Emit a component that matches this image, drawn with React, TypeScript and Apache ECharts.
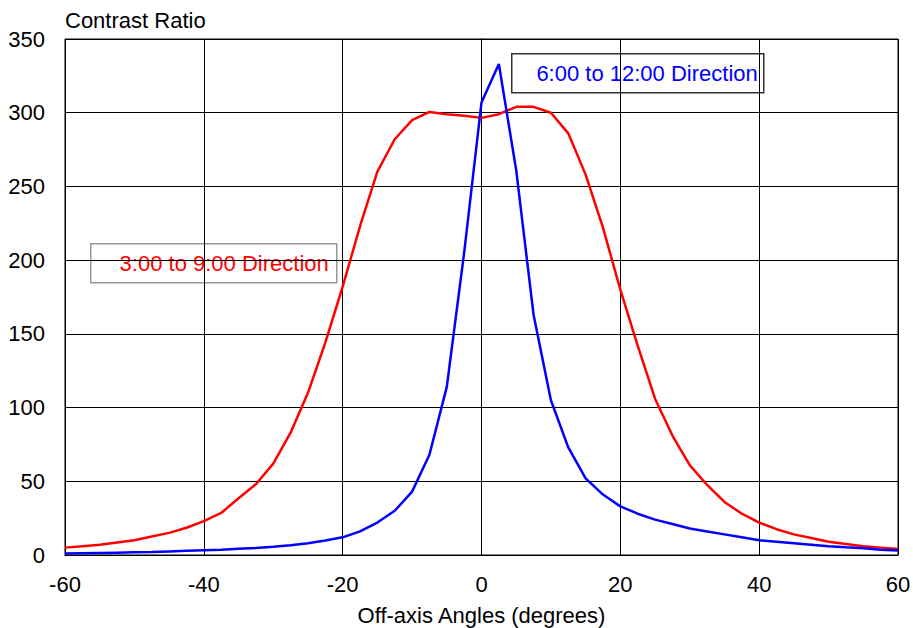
import React, { useEffect, useRef } from "react";
import * as echarts from "echarts";

const angles = [
  -60, -57.5, -55, -52.5, -50, -47.5, -45, -42.5, -40, -37.5, -35, -32.5, -30, -27.5, -25, -22.5,
  -20, -17.5, -15, -12.5, -10, -7.5, -5, -2.5, 0, 2.5, 5, 7.5, 10, 12.5, 15, 17.5, 20, 22.5, 25,
  27.5, 30, 32.5, 35, 37.5, 40, 42.5, 45, 47.5, 50, 52.5, 55, 57.5, 60,
];

const dir3to9 = [
  5, 6, 7, 8.5, 10, 12.5, 15, 18.5, 23, 28.5, 38.5, 48, 62, 83, 110, 144,
  182, 223, 260, 282, 295, 300.5, 299, 298, 296.5, 299, 304, 304, 300, 286, 258, 222, 180, 142, 106,
  81, 61, 47.5, 36, 28, 22, 17.5, 14, 11.5, 9, 7.5, 6, 5, 4,
];

const dir6to12 = [
  1, 1.2, 1.4, 1.6, 1.8, 2, 2.4, 2.8, 3.2, 3.6, 4.2, 4.8, 5.6, 6.6, 8, 9.8,
  12, 16, 22, 30, 43, 68, 114, 205, 307, 333, 261, 163, 105, 73, 52, 41, 33, 28, 24,
  21, 18, 16, 14, 12, 10, 9, 8, 7, 6, 5.2, 4.5, 3.6, 3,
];

const xTicks = { min: -60, max: 60, interval: 20 };
const yTicks = { min: 0, max: 350, interval: 50 };

const FONT = "'Liberation Sans', Arial, sans-serif";

export default function App() {
  const ref = useRef<HTMLDivElement>(null);

  useEffect(() => {
    document.body.style.margin = "0";
    document.body.style.overflow = "hidden";
    document.documentElement.style.overflow = "hidden";
    const chart = echarts.init(ref.current!, null, { renderer: "svg" });
    const toPairs = (ys: number[]) => angles.map((a, i) => [a, ys[i]]);
    chart.setOption({
      animation: false,
      backgroundColor: "#ffffff",
      textStyle: { fontFamily: FONT },
      grid: {
        left: 65,
        right: 15,
        top: 39,
        bottom: 73,
        containLabel: false,
        outerBoundsMode: "none",
        show: true,
        borderColor: "#000",
        borderWidth: 1,
        backgroundColor: "transparent",
      },
      xAxis: {
        type: "value",
        min: xTicks.min,
        max: xTicks.max,
        interval: xTicks.interval,
        name: "Off-axis Angles (degrees)",
        nameLocation: "middle",
        nameGap: 49,
        nameTextStyle: { color: "#000", fontSize: 22, fontFamily: FONT, verticalAlign: "top" },
        axisLine: { show: true, lineStyle: { color: "#000", width: 1 } },
        axisTick: { show: false },
        axisLabel: { color: "#000", fontSize: 22, margin: 18, fontFamily: FONT },
        splitLine: { show: true, lineStyle: { color: "#000", width: 1 } },
      },
      yAxis: {
        type: "value",
        min: yTicks.min,
        max: yTicks.max,
        interval: yTicks.interval,
        axisLine: { show: true, lineStyle: { color: "#000", width: 1 } },
        axisTick: { show: false },
        axisLabel: { color: "#000", fontSize: 22, margin: 20, fontFamily: FONT },
        splitLine: { show: true, lineStyle: { color: "#000", width: 1 } },
      },
      graphic: [
        {
          type: "text",
          left: 65,
          top: 9,
          style: { text: "Contrast Ratio", fill: "#000", fontSize: 22, fontFamily: FONT },
        },
        {
          type: "group",
          left: 90,
          top: 243,
          children: [
            {
              type: "rect",
              shape: { x: 0, y: 0, width: 246, height: 39 },
              style: { fill: "#fff", stroke: "#999", lineWidth: 1.5 },
            },
            {
              type: "text",
              x: 238,
              y: 19.5,
              style: {
                text: "3:00 to 9:00 Direction",
                fill: "#ff0000",
                fontSize: 22,
                fontFamily: FONT,
                align: "right",
                verticalAlign: "middle",
              },
            },
          ],
        },
        {
          type: "group",
          left: 511,
          top: 53,
          children: [
            {
              type: "rect",
              shape: { x: 0, y: 0, width: 252, height: 39 },
              style: { fill: "#fff", stroke: "#333", lineWidth: 1.5 },
            },
            {
              type: "text",
              x: 246,
              y: 19.5,
              style: {
                text: "6:00 to 12:00 Direction",
                fill: "#0000ff",
                fontSize: 22,
                fontFamily: FONT,
                align: "right",
                verticalAlign: "middle",
              },
            },
          ],
        },
      ],
      series: [
        {
          name: "3:00 to 9:00 Direction",
          type: "line",
          data: toPairs(dir3to9),
          showSymbol: false,
          lineStyle: { color: "#ff0000", width: 2.5 },
          itemStyle: { color: "#ff0000" },
          z: 2,
        },
        {
          name: "6:00 to 12:00 Direction",
          type: "line",
          data: toPairs(dir6to12),
          showSymbol: false,
          lineStyle: { color: "#0000ff", width: 2.5 },
          itemStyle: { color: "#0000ff" },
          z: 3,
        },
      ],
    });
    return () => chart.dispose();
  }, []);

  return (
    <div
      ref={ref}
      style={{ position: "fixed", left: 0, top: 0, width: 913, height: 628, background: "#fff" }}
    />
  );
}
